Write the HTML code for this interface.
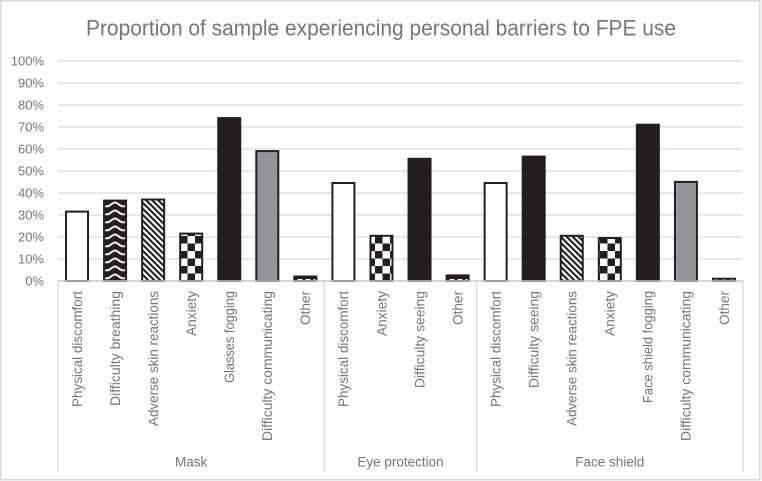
<!DOCTYPE html>
<html lang="en">
<head>
<meta charset="utf-8">
<title>Proportion of sample experiencing personal barriers to FPE use</title>
<style>
html,body{margin:0;padding:0;background:#fff;width:762px;height:481px;overflow:hidden}
svg{display:block}
text{font-family:"Liberation Sans",sans-serif;fill:#767676}
</style>
</head>
<body>
<svg id="chart" xmlns="http://www.w3.org/2000/svg" width="762" height="481" viewBox="0 0 762 481">
  <defs>
    <pattern id="fill-wave" patternUnits="userSpaceOnUse" x="105" y="201" width="20" height="8">
      <rect width="20" height="8" fill="#231f20"/>
      <path d="M0 5 C4 7 7 1.5 10 1.5 C13 1.5 16 7 20 5" fill="none" stroke="#fff" stroke-width="1.9"/>
    </pattern>
    <pattern id="fill-diagonal" patternUnits="userSpaceOnUse" width="6" height="6">
      <rect width="6" height="6" fill="#fff"/>
      <path d="M-1.5 4.5 L1.5 7.5 M0 0 L6 6 M4.5 -1.5 L7.5 1.5" stroke="#231f20" stroke-width="2.1"/>
    </pattern>
    <pattern id="fill-checker" patternUnits="userSpaceOnUse" width="15" height="15" y="281">
      <rect width="15" height="15" fill="#fff"/>
      <rect width="7.5" height="7.5" fill="#231f20"/>
      <rect x="7.5" y="7.5" width="7.5" height="7.5" fill="#231f20"/>
    </pattern>
    <pattern id="fill-dash" patternUnits="userSpaceOnUse" width="8" height="7" y="279">
      <rect width="8" height="7" fill="#231f20"/>
      <rect x="1.5" y="0" width="5" height="3.2" fill="#fff"/>
    </pattern>
  </defs>
  <rect x="0.75" y="0.75" width="759" height="479" fill="#fff" stroke="#d9d9d9" stroke-width="1.5"/>
  <text x="381" y="35.5" text-anchor="middle" font-size="22" textLength="590" lengthAdjust="spacingAndGlyphs">Proportion of sample experiencing personal barriers to FPE use</text>
  <g id="grid"></g>
  <g id="bars"></g>
  <g id="axis"></g>
</svg>
<script>
const groupNames = ["Mask", "Eye protection", "Face shield"];
const maskCategories = ["Physical discomfort", "Difficulty breathing", "Adverse skin reactions", "Anxiety", "Glasses fogging", "Difficulty communicating", "Other"];
const eyeCategories = ["Physical discomfort", "Anxiety", "Difficulty seeing", "Other"];
const faceCategories = ["Physical discomfort", "Difficulty seeing", "Adverse skin reactions", "Anxiety", "Face shield fogging", "Difficulty communicating", "Other"];
const maskValues = [32, 37, 37.5, 22, 74.5, 59.5, 2.5];
const eyeValues = [45, 21, 56, 3];
const faceValues = [45, 57, 21, 20, 71.5, 45.5, 1.5];
const yTicks = [0, 10, 20, 30, 40, 50, 60, 70, 80, 90, 100];

const NS = "http://www.w3.org/2000/svg";
const plot = { left: 58, right: 743, top: 61, bottom: 281, axisBottom: 472 };
const groupCats = [maskCategories, eyeCategories, faceCategories];
const groupVals = [maskValues, eyeValues, faceValues];
const totalCats = groupCats.reduce(function (n, g) { return n + g.length; }, 0);
const slot = (plot.right - plot.left) / totalCats;

function yScale(v) { return plot.bottom - (v / 100) * (plot.bottom - plot.top); }
function xEdge(i) { return plot.left + i * slot; }
function xCenter(i) { return xEdge(i) + slot / 2; }
function make(tag, parent, attrs) {
  const el = document.createElementNS(NS, tag);
  Object.keys(attrs).forEach(function (k) { el.setAttribute(k, attrs[k]); });
  parent.appendChild(el);
  return el;
}
function fillFor(name) {
  if (name === "Physical discomfort") return "#fff";
  if (name === "Difficulty breathing") return "url(#fill-wave)";
  if (name === "Adverse skin reactions") return "url(#fill-diagonal)";
  if (name === "Anxiety") return "url(#fill-checker)";
  if (name === "Difficulty communicating") return "#939598";
  if (name === "Other") return "url(#fill-dash)";
  return "#231f20";
}
function labelLength(name) {
  if (name === "Physical discomfort") return 116;
  if (name === "Difficulty breathing") return 115;
  if (name === "Adverse skin reactions") return 135;
  if (name === "Anxiety") return 45;
  if (name === "Glasses fogging") return 92;
  if (name === "Difficulty communicating") return 150;
  if (name === "Other") return 34;
  if (name === "Difficulty seeing") return 97;
  return 112;
}

const gridG = document.getElementById("grid");
const barsG = document.getElementById("bars");
const axisG = document.getElementById("axis");

yTicks.forEach(function (t) {
  if (t > 0) {
    const line = make("line", gridG, { x1: plot.left, x2: plot.right, y1: yScale(t), y2: yScale(t), stroke: "#d9d9d9", "stroke-width": 1.3 });
    
    
  }
  const lab = make("text", axisG, { x: 44, y: yScale(t) + 4.6, "text-anchor": "end", "font-size": 13 });
  
  
  lab.textContent = t + "%";
});

let index = 0;
groupCats.forEach(function (cats, g) {
  const start = index;
  cats.forEach(function (name, c) {
    const cx = xCenter(index);
    const top = yScale(groupVals[g][c]);
    const bar = make("rect", barsG, {
      x: cx - 11, y: top + 1, width: 22, height: Math.max(plot.bottom - top - 1, 0),
      fill: fillFor(name), stroke: "#231f20", "stroke-width": 2
    });
    
    

    const lab = make("text", axisG, {
      x: 0, y: 0, "text-anchor": "end", "font-size": 13.5,
      textLength: labelLength(name), lengthAdjust: "spacingAndGlyphs",
      transform: "translate(" + (cx + 4.8) + ",291) rotate(-90)"
    });
    
    
    lab.textContent = name;
    index++;
  });
  const groupLab = make("text", axisG, {
    x: (xEdge(start) + xEdge(index)) / 2, y: 466.5, "text-anchor": "middle", "font-size": 13.5
  });
  
  
  groupLab.textContent = groupNames[g];
  const sep = make("line", axisG, { x1: xEdge(start), x2: xEdge(start), y1: plot.bottom, y2: plot.axisBottom, stroke: "#d9d9d9", "stroke-width": 1.3 });
  
  
});
const endSep = make("line", axisG, { x1: plot.right, x2: plot.right, y1: plot.bottom, y2: plot.axisBottom, stroke: "#d9d9d9", "stroke-width": 1.3 });


const baseline = make("line", axisG, { x1: plot.left, x2: plot.right, y1: plot.bottom, y2: plot.bottom, stroke: "#c8c8c8", "stroke-width": 1.5 });


</script>
</body>
</html>
